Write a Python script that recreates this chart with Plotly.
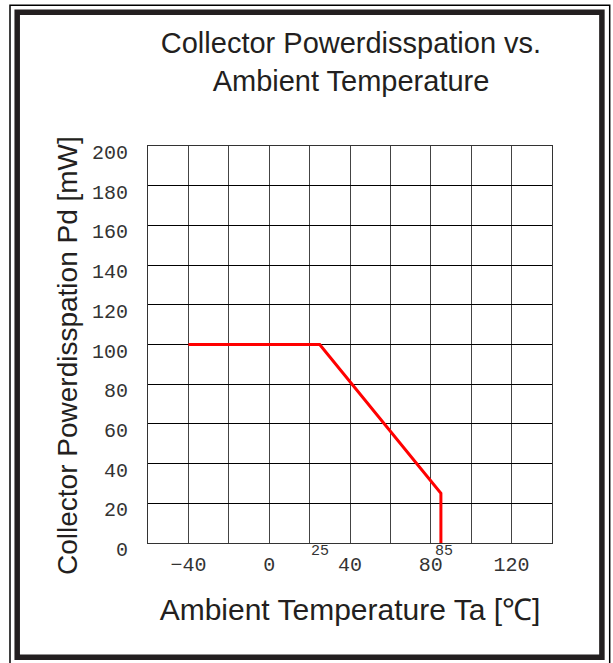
import plotly.graph_objects as go

# ---- data ----
temp_c = [-40, 25, 85, 85]          # Ambient temperature Ta [°C]
power_mw = [100, 100, 25, 0]        # Collector power dissipation Pd [mW]
x_tick_vals = [-40, 0, 40, 80, 120]
y_tick_vals = [0, 20, 40, 60, 80, 100, 120, 140, 160, 180, 200]
knee_labels = [25, 85]

W, H = 613, 663
ML, MR, MT, MB = 148, 61, 146, 120
PW, PH = W - ML - MR, H - MT - MB

def px_x(px):
    return (px - ML) / PW

def px_y(py):
    return (H - MB - py) / PH

TXT = "#231f20"
TICK = "#333333"

fig = go.Figure()
fig.add_trace(go.Scatter(
    x=temp_c, y=power_mw, mode="lines",
    line=dict(color="#ff0000", width=3),
    showlegend=False, hoverinfo="skip",
))

fig.update_layout(
    width=W, height=H,
    margin=dict(l=ML, r=MR, t=MT, b=MB, pad=0),
    paper_bgcolor="white", plot_bgcolor="white",
    title=dict(
        text="Collector Powerdisspation vs.<br>Ambient Temperature",
        font=dict(family="Liberation Sans, Arial", size=29, color=TXT),
        x=351 / W, xanchor="center", xref="container",
        y=1 - 53 / H, yanchor="top", yref="container",
    ),
    xaxis=dict(
        range=[-60, 140], tickmode="array", tickvals=x_tick_vals,
        showgrid=True, gridcolor="#444", gridwidth=1,
        minor=dict(dtick=20, tick0=0, showgrid=True, gridcolor="#444", gridwidth=1),
        zeroline=False, showline=True, linecolor="#333", linewidth=1, mirror=True,
        ticks="", ticklabelstandoff=3,
        tickfont=dict(family="Liberation Mono, Courier New", size=20, color=TICK),
        title=dict(text="Ambient Temperature Ta [℃]", standoff=22,
                   font=dict(family="Liberation Sans, Arial", size=30, color=TXT)),
    ),
    yaxis=dict(
        range=[0, 200], tickmode="array", tickvals=y_tick_vals,
        showgrid=True, gridcolor="#000", gridwidth=1,
        zeroline=False, showline=True, linecolor="#333", linewidth=1, mirror=True,
        ticks="", ticklabelstandoff=15, ticklabelshift=6,
        tickfont=dict(family="Liberation Mono, Courier New", size=20, color=TICK),
    ),
)

# y-axis title placed as rotated text so it sits where the reference has it
fig.add_annotation(
    x=px_x(67), y=px_y(356), xref="paper", yref="paper",
    text="Collector Powerdisspation Pd [mW]", textangle=-90, showarrow=False,
    xanchor="center", yanchor="middle",
    font=dict(family="Liberation Sans, Arial", size=28, color=TXT),
)

for v in knee_labels:
    fig.add_annotation(
        x=v, y=0, xref="x", yref="paper", text=str(v), showarrow=False,
        xanchor="center", yanchor="middle", yshift=-8,
        xshift=3 if v == knee_labels[-1] else 0,
        font=dict(family="Liberation Mono, Courier New", size=15, color=TICK),
    )

# outer thin frame and thick border
fig.add_shape(type="rect", xref="paper", yref="paper",
              x0=px_x(10), x1=px_x(609.7), y0=px_y(680), y1=px_y(5.3),
              line=dict(color="#000", width=1.5), layer="above")
fig.add_shape(type="rect", xref="paper", yref="paper",
              x0=px_x(17.2), x1=px_x(601.9), y0=px_y(657.2), y1=px_y(12.3),
              line=dict(color=TXT, width=5.5), layer="above")

fig.write_html("out.html", config={"displayModeBar": False},
               post_script="document.body.style.margin='0';document.body.style.overflow='hidden';")
